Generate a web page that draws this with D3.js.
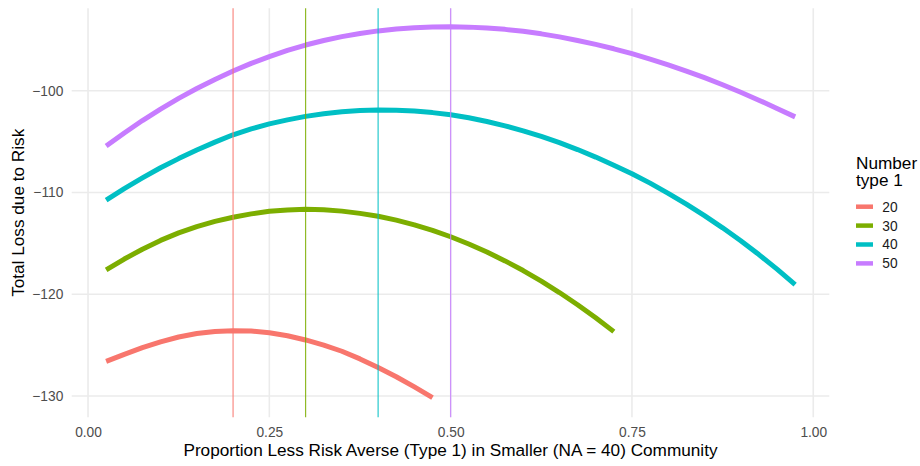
<!DOCTYPE html>
<html><head><meta charset="utf-8">
<script src="https://cdn.jsdelivr.net/npm/d3@7"></script>
<style>
body{margin:0;background:#fff}
text{font-family:"Liberation Sans",Arial,Helvetica,sans-serif}
</style>
</head><body>
<svg id="chart" width="920" height="466"></svg>
<script>
// ---- data ----
const proportions = [0.025,0.05,0.075,0.1,0.125,0.15,0.175,0.2,0.225,0.25,0.275,0.3,0.325,0.35,0.375,0.4,0.425,0.45,0.475,0.5,
  0.525,0.55,0.575,0.6,0.625,0.65,0.675,0.7,0.725,0.75,0.775,0.8,0.825,0.85,0.875,0.9,0.925,0.95,0.975];
const groups = ["20","30","40","50"];
const loss20 = [-126.6,-125.9,-125.25,-124.68,-124.2,-123.86,-123.65,-123.58,-123.62,-123.78,-124.08,-124.49,-125.0,-125.6,-126.35,-127.2,-128.1,-129.1,-130.15];
const loss30 = [-117.61,-116.54,-115.57,-114.71,-113.97,-113.35,-112.84,-112.43,-112.1,-111.85,-111.71,-111.65,-111.7,-111.83,-112.05,-112.34,-112.72,-113.18,-113.72,-114.35,
  -115.06,-115.85,-116.72,-117.67,-118.71,-119.83,-121.03,-122.31,-123.67];
const loss40 = [-110.75,-109.62,-108.57,-107.57,-106.67,-105.83,-105.05,-104.33,-103.75,-103.26,-102.86,-102.52,-102.26,-102.07,-101.95,-101.9,
  -101.92,-102.0,-102.15,-102.36,-102.66,-103.02,-103.45,-103.94,-104.49,-105.1,-105.78,-106.52,-107.32,-108.15,-109.08,-110.08,-111.14,-112.27,-113.47,-114.75,-116.1,-117.53,-119.06];
const loss50 = [-105.44,-104.15,-102.93,-101.8,-100.75,-99.78,-98.89,-98.06,-97.31,-96.64,-96.04,-95.51,-95.06,-94.68,-94.37,-94.12,-93.93,-93.8,-93.73,-93.71,
  -93.75,-93.83,-93.97,-94.16,-94.41,-94.71,-95.06,-95.45,-95.88,-96.36,-96.89,-97.46,-98.07,-98.72,-99.41,-100.15,-100.93,-101.74,-102.57];
const optimum = [0.2,0.3,0.4,0.5];
const xTicks = [0,0.25,0.5,0.75,1];
const xTickLabels = ["0.00","0.25","0.50","0.75","1.00"];
const yTicks = [-130,-120,-110,-100];
const yTickLabels = ["\u2212130","\u2212120","\u2212110","\u2212100"];
const colors = ["#F8766D","#7CAE00","#00BFC4","#C77CFF"];
const xTitle = "Proportion Less Risk Averse (Type 1) in Smaller (NA = 40) Community";
const yTitle = "Total Loss due to Risk";
const legendTitle = ["Number","type 1"];

// ---- build ----
const series = [loss20, loss30, loss40, loss50].map((vals, i) => ({
  key: groups[i], color: colors[i],
  points: vals.map((v, j) => ({x: proportions[j], y: v}))
}));

const P = {left:71.7, right:829.3, top:8.3, bottom:417.3};
const x = d3.scaleLinear().domain([-0.0225, 1.0221]).range([P.left, P.right]);
const y = d3.scaleLinear().domain([-132.09, -91.9]).range([P.bottom, P.top]);

const svg = d3.select("#chart");

// grid
const grid = svg.append("g");
grid.selectAll("line.v").data(xTicks).join("line")
  .attr("x1", d => x(d)).attr("x2", d => x(d))
  .attr("y1", P.top).attr("y2", P.bottom)
  .attr("stroke", "#EBEBEB").attr("stroke-width", 1.6);
grid.selectAll("line.h").data(yTicks).join("line")
  .attr("y1", d => y(d)).attr("y2", d => y(d))
  .attr("x1", P.left).attr("x2", P.right)
  .attr("stroke", "#EBEBEB").attr("stroke-width", 1.6);

// axes (labels only)
const xAxis = d3.axisBottom(x).tickValues(xTicks).tickFormat((d, i) => xTickLabels[i]).tickSize(0).tickPadding(9.6);
const yAxis = d3.axisLeft(y).tickValues(yTicks).tickFormat((d, i) => yTickLabels[i]).tickSize(0).tickPadding(8.4);
const gx = svg.append("g").attr("transform", `translate(0,${P.bottom})`).call(xAxis);
const gy = svg.append("g").attr("transform", `translate(${P.left},0)`).call(yAxis);
[gx, gy].forEach(g => {
  g.select(".domain").remove();
  g.selectAll("text").attr("fill", "#4D4D4D").style("font-size", "13.76px")
    .style("font-family", "'Liberation Sans',Arial,sans-serif");
});

// curves
const line = d3.line().x(d => x(d.x)).y(d => y(d.y));
svg.append("g").selectAll("path").data(series).join("path")
  .attr("d", d => line(d.points))
  .attr("fill", "none").attr("stroke", d => d.color)
  .attr("stroke-width", 5).attr("stroke-linecap", "butt").attr("stroke-linejoin", "round");

// vertical reference lines
svg.append("g").selectAll("line").data(optimum).join("line")
  .attr("x1", d => x(d)).attr("x2", d => x(d))
  .attr("y1", P.top).attr("y2", P.bottom)
  .attr("stroke", (d, i) => colors[i]).attr("stroke-width", 1.2).attr("stroke-opacity", 0.85);

// axis titles
svg.append("text").attr("x", (P.left + P.right) / 2).attr("y", 455.7)
  .attr("text-anchor", "middle").style("font-size", "17.2px").attr("fill", "#000").text(xTitle);
svg.append("text").attr("transform", `translate(24,${(P.top + P.bottom) / 2}) rotate(-90)`)
  .attr("text-anchor", "middle").style("font-size", "17.2px").attr("fill", "#000").text(yTitle);

// legend
const lg = svg.append("g");
lg.selectAll("text.title").data(legendTitle).join("text")
  .attr("x", 856).attr("y", (d, i) => 168.5 + i * 17.4)
  .style("font-size", "17.2px").attr("fill", "#000").text(d => d);
const items = lg.selectAll("g.item").data(series).join("g")
  .attr("transform", (d, i) => `translate(0,${206.7 + i * 18.9})`);
items.append("line").attr("x1", 856).attr("x2", 873).attr("y1", 0).attr("y2", 0)
  .attr("stroke", d => d.color).attr("stroke-width", 4.5);
items.append("text").attr("x", 882.3).attr("y", 4.9)
  .style("font-size", "13.76px").attr("fill", "#1a1a1a").text(d => d.key);
</script>
</body></html>
